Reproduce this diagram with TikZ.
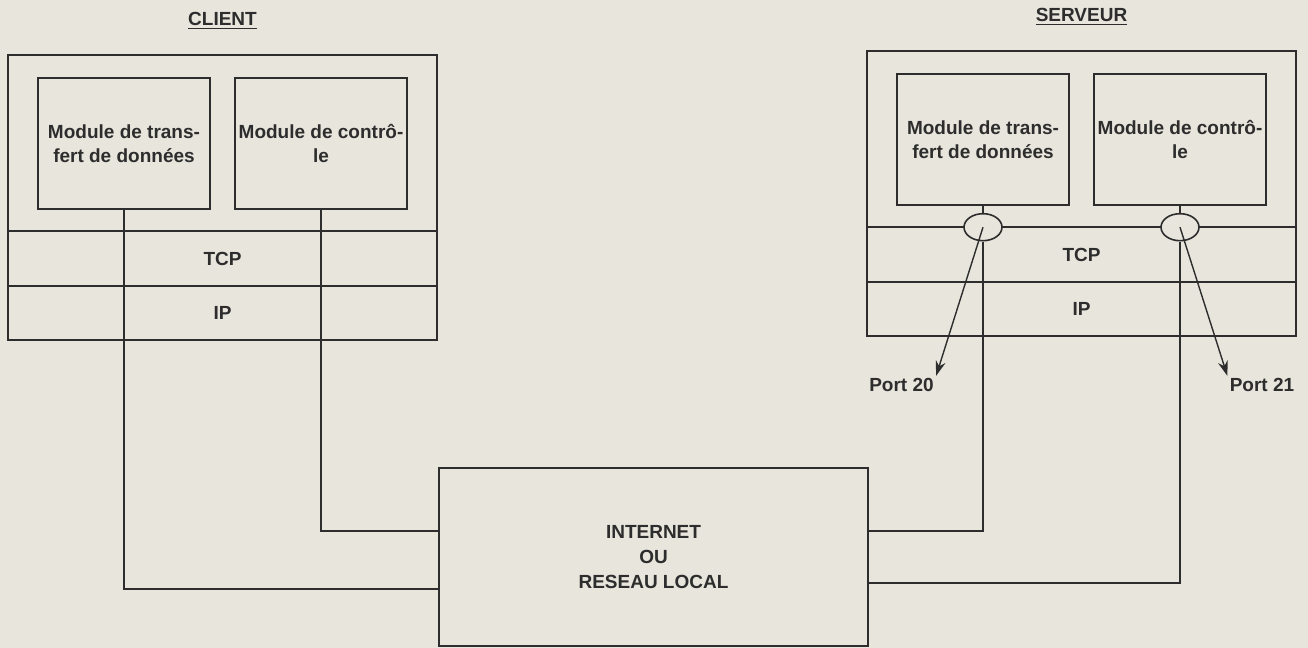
\documentclass[tikz,border=0pt]{standalone}
\usepackage{fontspec}
\setmainfont{Liberation Sans}
\usetikzlibrary{arrows.meta, positioning, calc, shapes.geometric}

\definecolor{paper}{RGB}{231,229,220}
\definecolor{ink}{RGB}{45,45,45}

\begin{document}
\begin{tikzpicture}[x=0.5pt, y=-0.5pt,
    every node/.style={font=\bfseries\fontsize{9.5}{12}\selectfont, text=ink},
    host/.style={draw=ink, line width=0.8pt, minimum width=214.5pt, minimum height=142.5pt, inner sep=0pt},
    layer/.style={minimum width=214.5pt, minimum height=27pt, inner sep=0pt},
    module/.style={draw=ink, line width=0.8pt, minimum width=86pt, minimum height=65.5pt, align=center, inner sep=0pt},
    link/.style={draw=ink, line width=0.7pt},
    sock/.style={ellipse, draw=ink, fill=paper, line width=0.8pt, minimum width=19pt, minimum height=13.5pt, inner sep=0pt},
    portlbl/.style={inner sep=1pt}]
% Paper
\fill[paper] (0,0) rectangle (1308,648);
\useasboundingbox (0,0) rectangle (1308,648);
% Client and server hosts
\foreach \h/\x/\y/\lbl in {c/222.5/197.5/CLIENT, s/1081.5/193.5/SERVEUR} {
    \node[host] (\h Host) at (\x,\y) {};
    \node (\h Title) at (\x,\y-177) {\underline{\lbl}};
    \node[layer, anchor=south] (\h Ip) at (\h Host.south) {IP};
    \node[layer, anchor=south] (\h Tcp) at (\h Ip.north) {TCP};
    \draw[ink, line width=0.8pt] (\h Tcp.north west) -- (\h Tcp.north east);
    \draw[ink, line width=0.8pt] (\h Ip.north west) -- (\h Ip.north east);
    \node[module, anchor=north west] (\h Data) at ([xshift=15pt, yshift=-11.5pt]\h Host.north west) {Module de trans-\\fert de données};
    \node[module, anchor=north east] (\h Ctl) at ([xshift=-15pt, yshift=-11.5pt]\h Host.north east) {Module de contrô-\\le};
}
% Network
\node[host, minimum height=89pt, align=center, font=\bfseries\fontsize{9.5}{12.5}\selectfont] (net) at (653.5,557) {INTERNET\\OU\\RESEAU LOCAL};
% Client links
\draw[link] (cData.south) |- (net.west |- 0,589);
\draw[link] (cCtl.south) |- (net.west |- 0,531);
% Server sockets
\node[sock] (sSock1) at (sData.south |- sTcp.north) {};
\node[sock] (sSock2) at (sCtl.south |- sTcp.north) {};
\draw[link] (sData.south) -- (sSock1.north);
\draw[link] (sCtl.south) -- (sSock2.north);
\draw[link] (sSock1.south) |- (net.east |- 0,531);
\draw[link] (sSock2.south) |- (net.east |- 0,583);
% Ports
\node[portlbl] (p20) at (901.5,385) {Port 20};
\node[portlbl] (p21) at (1262,385) {Port 21};
\draw[link, -{Stealth[length=7.5pt, width=5pt]}] (sSock1.center) -- (p20.north east);
\draw[link, -{Stealth[length=7.5pt, width=5pt]}] (sSock2.center) -- (p21.north west);
\end{tikzpicture}
\end{document}
